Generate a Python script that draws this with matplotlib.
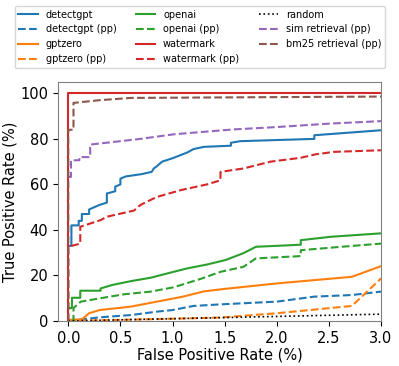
import numpy as np
import matplotlib
matplotlib.use('Agg')
import matplotlib.pyplot as plt

# ROC points (FPR %, TPR %)
detectgpt_fpr = [0.0, 0.03, 0.03, 0.1, 0.1, 0.13, 0.13, 0.2, 0.2, 0.3, 0.37, 0.37, 0.45, 0.45, 0.5, 0.5, 0.55,
                 0.7, 0.8, 0.82, 0.85, 0.9, 1.0, 1.14, 1.2, 1.3, 1.56, 1.56, 1.65, 2.36, 2.36, 3.0]
detectgpt_tpr = [33, 33, 42, 42, 44, 44, 47, 47, 49, 51, 52, 56, 57, 59, 60, 62.5, 63.5,
                 64.5, 65.5, 67, 68, 70, 71.5, 74, 75.5, 76.5, 77, 78.3, 79, 80, 81.6, 83.8]
detectgpt_pp_fpr = [0.0, 0.13, 0.3, 0.6, 0.85, 1.0, 1.2, 1.46, 2.0, 2.36, 2.72, 3.0]
detectgpt_pp_tpr = [0.0, 0.7, 1.6, 2.6, 4.1, 4.8, 6.6, 7.3, 8.5, 10.7, 11.4, 12.9]
gptzero_fpr = [0.0, 0.13, 0.2, 0.3, 0.6, 0.85, 1.1, 1.3, 1.46, 2.0, 2.72, 3.0]
gptzero_tpr = [0.5, 0.7, 3.4, 4.8, 6.3, 8.5, 10.7, 13.0, 13.9, 16.5, 19.4, 24.1]
gptzero_pp_fpr = [0.0, 0.5, 1.0, 1.46, 2.0, 2.72, 3.0]
gptzero_pp_tpr = [0.0, 0.5, 1.0, 1.5, 3.4, 6.6, 18.7]
openai_fpr = [0.0, 0.035, 0.035, 0.115, 0.115, 0.31, 0.31, 0.42, 0.6, 0.79, 1.01, 1.14, 1.33, 1.51,
              1.68, 1.8, 2.23, 2.23, 2.52, 3.0]
openai_tpr = [5.7, 5.7, 10.2, 10.2, 13.3, 13.3, 14.3, 15.8, 17.5, 19.0, 21.6, 23.1, 24.8, 26.8,
              29.8, 32.6, 33.5, 35.5, 37.0, 38.5]
openai_pp_fpr = [0.035, 0.05, 0.05, 0.12, 0.31, 0.53, 0.79, 1.01, 1.27, 1.46, 1.68, 1.8, 2.23, 2.23, 2.62, 3.0]
openai_pp_tpr = [0.0, 0.0, 5.7, 8.5, 10.0, 11.7, 12.9, 14.8, 18.5, 21.6, 23.8, 27.5, 28.5, 31.1, 32.6, 34.0]
watermark_fpr = [0.0, 0.0, 3.0]
watermark_tpr = [0.0, 100.0, 100.0]
watermark_pp_fpr = [0.0, 0.0, 0.115, 0.115, 0.31, 0.37, 0.63, 0.69, 0.75, 0.85, 1.08, 1.33, 1.46, 1.46,
                    1.68, 1.94, 2.23, 2.37, 2.55, 3.0]
watermark_pp_tpr = [0.0, 32.6, 34.0, 41.4, 44.3, 45.8, 48.5, 50.9, 52.3, 54.5, 57.5, 60.0, 61.8, 65.5,
                    67.0, 70.0, 71.7, 73.2, 74.3, 75.0]
random_fpr = [0.0, 3.0]
random_tpr = [0.0, 3.0]
sim_fpr = [0.0, 0.026, 0.026, 0.106, 0.106, 0.21, 0.21, 0.5, 0.69, 1.01, 1.27, 1.6, 2.0, 2.5, 3.0]
sim_tpr = [63.3, 63.3, 70.6, 70.6, 72.0, 72.0, 77.5, 79.0, 80.0, 82.0, 83.0, 84.2, 85.2, 86.7, 87.8]
bm25_fpr = [0.0, 0.0, 0.05, 0.05, 0.3, 0.6, 3.0]
bm25_tpr = [0.0, 84.0, 84.0, 95.8, 97.0, 98.0, 98.6]

plt.rcParams['font.size'] = 10.5

fig = plt.figure(figsize=(3.99, 3.66), dpi=100)
ax = fig.add_axes([0.145, 0.123, 0.81, 0.653])

ax.plot(detectgpt_fpr, detectgpt_tpr, color='C0', lw=1.5, label='detectgpt')
ax.plot(detectgpt_pp_fpr, detectgpt_pp_tpr, color='C0', lw=1.5, ls='--', label='detectgpt (pp)')
ax.plot(gptzero_fpr, gptzero_tpr, color='C1', lw=1.5, label='gptzero')
ax.plot(gptzero_pp_fpr, gptzero_pp_tpr, color='C1', lw=1.5, ls='--', label='gptzero (pp)')
ax.plot(openai_fpr, openai_tpr, color='C2', lw=1.5, label='openai')
ax.plot(openai_pp_fpr, openai_pp_tpr, color='C2', lw=1.5, ls='--', label='openai (pp)')
ax.plot(watermark_fpr, watermark_tpr, color='C3', lw=1.5, label='watermark')
ax.plot(watermark_pp_fpr, watermark_pp_tpr, color='C3', lw=1.5, ls='--', label='watermark (pp)')
ax.plot(random_fpr, random_tpr, color='black', lw=1.2, ls=':', label='random')
ax.plot(sim_fpr, sim_tpr, color='C4', lw=1.5, ls='--', label='sim retrieval (pp)')
ax.plot(bm25_fpr, bm25_tpr, color='C5', lw=1.5, ls='--', label='bm25 retrieval (pp)')

ax.set_xlim(-0.1, 3.0)
ax.set_ylim(0, 105)
ax.set_xticks([0.0, 0.5, 1.0, 1.5, 2.0, 2.5, 3.0])
ax.set_yticks([0, 20, 40, 60, 80, 100])
ax.set_xlabel('False Positive Rate (%)', labelpad=1)
ax.set_ylabel('True Positive Rate (%)', labelpad=2)
for s in ax.spines.values():
    s.set_color('gray')

fig.legend(loc='lower center', bbox_to_anchor=(0.501, 0.814), ncol=3, fontsize=7,
           borderaxespad=0)

plt.savefig('out.png', dpi=100)
